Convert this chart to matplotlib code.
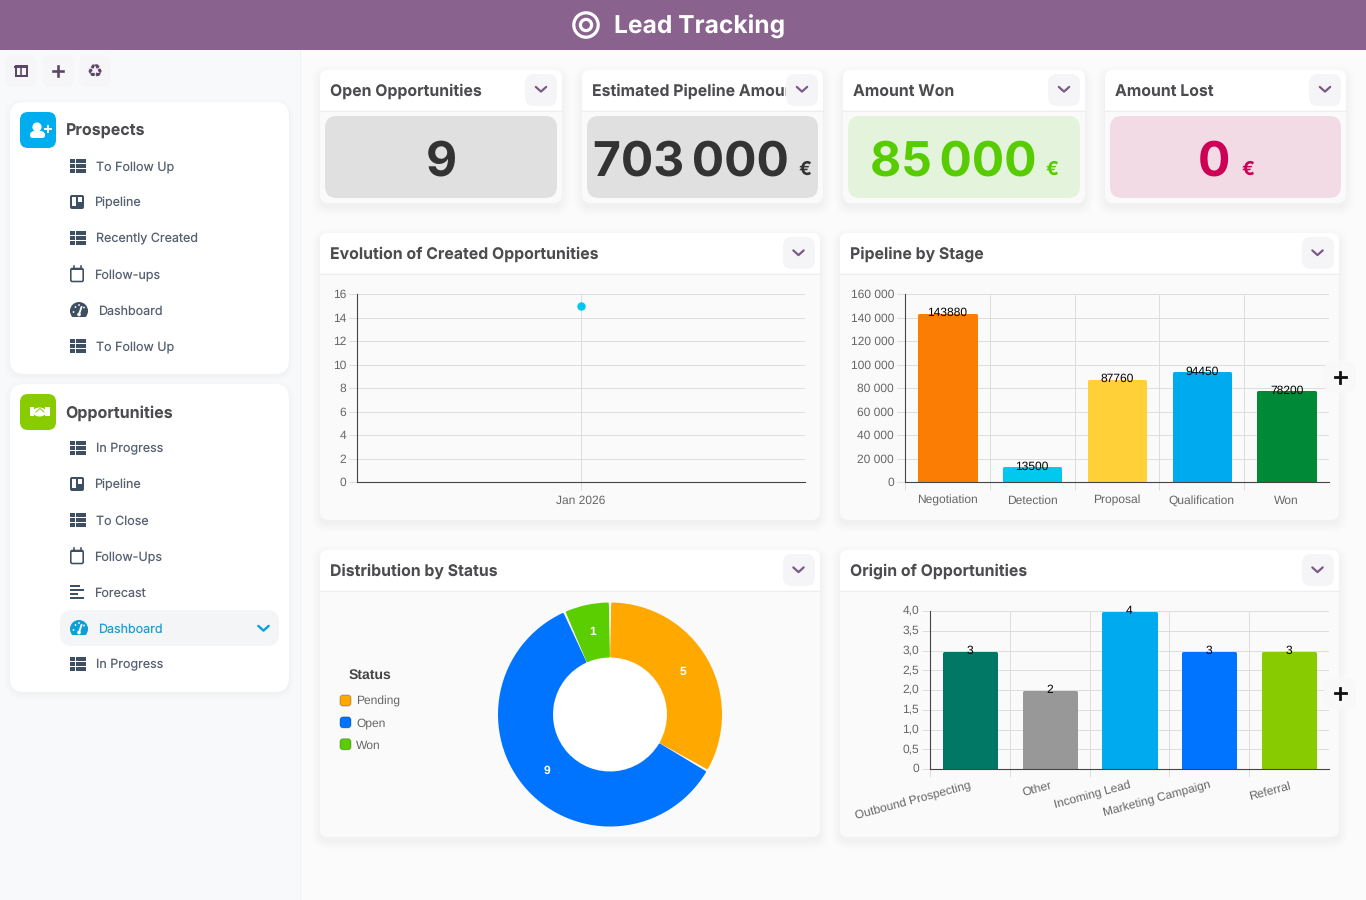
import matplotlib
matplotlib.use("Agg")
import matplotlib.pyplot as plt
from matplotlib.patches import FancyBboxPatch, Rectangle, Circle, Wedge, Patch, Ellipse
from matplotlib.legend_handler import HandlerPatch
from matplotlib.transforms import Affine2D

plt.rcParams["text.hinting"] = "no_hinting"
plt.rcParams["text.hinting_factor"] = 1

W, H = 1366, 900
PX = 0.72
UI = ["Inter", "DejaVu Sans"]
CH = ["Liberation Sans", "DejaVu Sans"]

# ---- data ----
title = "Lead Tracking"
prospect_items = ["To Follow Up", "Pipeline", "Recently Created", "Follow-ups", "Dashboard", "To Follow Up"]
prospect_icons = ["table", "board", "table", "cal", "gauge", "table"]
opportunity_items = ["In Progress", "Pipeline", "To Close", "Follow-Ups", "Forecast", "Dashboard", "In Progress"]
opportunity_icons = ["table", "board", "table", "cal", "bars", "gauge", "table"]

kpi_titles = ["Open Opportunities", "Estimated Pipeline Amount", "Amount Won", "Amount Lost"]
kpi_values = ["9", "703\u2009000", "85\u2009000", "0"]
kpi_units = ["", "€", "€", "€"]

months = ["Jan 2026"]
created = [15]
created_ticks = [0, 2, 4, 6, 8, 10, 12, 14, 16]

stages = ["Negotiation", "Detection", "Proposal", "Qualification", "Won"]
stage_values = [143880, 13500, 87760, 94450, 78200]
stage_ticks = [0, 20000, 40000, 60000, 80000, 100000, 120000, 140000, 160000]
stage_ticklabels = ["0", "20 000", "40 000", "60 000", "80 000", "100 000", "120 000", "140 000", "160 000"]
stage_colors = ["#fb7d03", "#00c9ee", "#ffd037", "#00aaee", "#008936"]

statuses = ["Pending", "Open", "Won"]
status_values = [5, 9, 1]
status_colors = ["#ffa800", "#0074ff", "#5ace00"]

origins = ["Outbound Prospecting", "Other", "Incoming Lead", "Marketing Campaign", "Referral"]
origin_values = [3, 2, 4, 3, 3]
origin_ticks = [0, 0.5, 1, 1.5, 2, 2.5, 3, 3.5, 4]
origin_ticklabels = ["0", "0,5", "1,0", "1,5", "2,0", "2,5", "3,0", "3,5", "4,0"]
origin_colors = ["#017865", "#989898", "#00aaee", "#0074ff", "#88cc00"]

INK = "#3f4f63"
PURPLE = "#7a5a86"
TXT = "#566170"
HEAD = "#4c4c4f"
TICK = "#666666"
GRID = "#dddddd"
AXIS = "#444444"

fig = plt.figure(figsize=(W / 100, H / 100), dpi=100, facecolor="#fbfbfc")


def overlay(z):
    a = fig.add_axes([0, 0, 1, 1], zorder=z)
    a.set_xlim(0, W)
    a.set_ylim(H, 0)
    a.axis("off")
    a.patch.set_alpha(0)
    return a


ui = overlay(0)
top = overlay(10)


def box(a, x0, y0, x1, y1, r, color, z=1, **kw):
    p = FancyBboxPatch((x0 + r, y0 + r), x1 - x0 - 2 * r, y1 - y0 - 2 * r,
                       boxstyle=f"round,pad={r},rounding_size={r}",
                       fc=color, ec="none", zorder=z, **kw)
    a.add_patch(p)
    return p


def shadow(x0, y0, x1, y1, r=8):
    for grow, al in [(9, .005), (7, .006), (5, .008), (3, .009), (1, .01)]:
        box(ui, x0 - grow, y0 - grow + 4, x1 + grow, y1 + grow + 4, r + grow, "#20304a", z=1, alpha=al)


def chevron(a, cx, cy, color=PURPLE, w=5.2, h=4.2, lw=2.2, z=5):
    a.plot([cx - w, cx, cx + w], [cy - h * .5, cy + h * .5 + .5, cy - h * .5], color=color,
           lw=lw * PX, solid_capstyle="round", solid_joinstyle="round", zorder=z)


def txt(a, x, y, s, size, color, weight="normal", family=UI, ha="left", va="center", z=6, **kw):
    return a.text(x, y, s, fontsize=size * PX, color=color, fontweight=weight, family=family,
                  ha=ha, va=va, zorder=z, **kw)


def icon(kind, x, cy, color=INK):
    if kind == "table":
        for r in range(3):
            for (c0, c1) in [(x, x + 5), (x + 6, x + 16)]:
                ui.add_patch(Rectangle((c0, cy - 7 + r * 5), c1 - c0, 4.2, fc=color, ec="none", zorder=5))
    elif kind == "board":
        box(ui, x, cy - 7, x + 14, cy + 7, 2, color, z=5)
        ui.add_patch(Rectangle((x + 1.8, cy - 5.2), 4.5, 9, fc="white", ec="none", zorder=6))
        ui.add_patch(Rectangle((x + 7.7, cy - 5.2), 4.5, 5.5, fc="white", ec="none", zorder=6))
    elif kind == "cal":
        p = FancyBboxPatch((x + .8, cy - 5.5), 12.4, 13, boxstyle="round,pad=0,rounding_size=1.5",
                           fc="none", ec=color, lw=1.6 * PX, zorder=5)
        ui.add_patch(p)
        ui.add_patch(Rectangle((x + .8, cy - 6), 12.4, 2.4, fc=color, ec="none", zorder=5))
        for dx in (3.5, 10.5):
            ui.plot([x + dx, x + dx], [cy - 8, cy - 5], color=color, lw=1.6 * PX, zorder=5)
    elif kind == "bars":
        for i, w_ in enumerate([10, 14, 8, 14]):
            ui.add_patch(Rectangle((x, cy - 7 + i * 4), w_, 1.9, fc=color, ec="none", zorder=5))
    elif kind == "gauge":
        cx = x + 9
        ui.add_patch(Wedge((cx, cy + 2), 9, 180, 360, fc=color, ec="none", zorder=5, width=None))
        ui.add_patch(Circle((cx, cy + 1), 9, fc=color, ec="none", zorder=5))
        ui.add_patch(Rectangle((cx - 10, cy + 7), 20, 4, fc="white" if color == INK else "#f4f5f6", ec="none", zorder=5))
        ui.plot([cx, cx + 2.5], [cy + 4.5, cy - 3], color="white", lw=1.8 * PX, zorder=6)
        ui.add_patch(Circle((cx, cy + 4.5), 1.8, fc="white", ec="none", zorder=6))
        for dx, dy in [(-5.5, 2), (-3.5, -3), (0, -5), (5, -2.5)]:
            ui.add_patch(Circle((cx + dx, cy + dy), .9, fc="white", ec="none", zorder=6))


TEXT_X = {"table": 96, "board": 94, "cal": 94, "bars": 94, "gauge": 98}

# ---- page frame ----
ui.add_patch(Rectangle((0, 50), 299, 850, fc="#f8f9fb", ec="none", zorder=0))
ui.plot([299.5, 299.5], [50, 900], color="#f0f1f3", lw=.8, zorder=0)
ui.add_patch(Rectangle((0, 0), W, 50, fc="#89638e", ec="none", zorder=2))
ui.add_patch(Circle((586, 25), 12.2, fc="none", ec="white", lw=3.2 * PX, zorder=3))
ui.add_patch(Circle((586, 25), 5.6, fc="none", ec="white", lw=3.2 * PX, zorder=3))
txt(ui, 614, 27, title, 24.6, "white", "bold")

# toolbar
for cx in (21, 58, 95):
    box(ui, cx - 16, 55, cx + 16, 87, 9, "#f6f6f8", z=2)
ui.add_patch(Rectangle((15.5, 66), 11, 9.5, fc="none", ec="#5d4566", lw=2 * PX, zorder=4))
ui.plot([21, 21], [66, 75.5], color="#5d4566", lw=1.6 * PX, zorder=4)
ui.plot([15, 27], [67, 67], color="#5d4566", lw=2 * PX, zorder=4)
ui.plot([53, 63], [71, 71], color="#5d4566", lw=2.6 * PX, zorder=4)
ui.plot([58, 58], [66, 76], color="#5d4566", lw=2.6 * PX, zorder=4)
txt(ui, 95, 72, "\u267b", 18, "#5d4566", family=["DejaVu Sans"], ha="center")

# ---- sidebar ----
for (y0, y1) in [(102, 374), (384, 692)]:
    for g, al in [(5, .006), (3, .008), (1, .01)]:
        box(ui, 10 - g, y0 - g + 2, 289 + g, y1 + g + 2, 14 + g, "#20304a", z=1, alpha=al)
    box(ui, 10, y0, 289, y1, 14, "white", z=2)

box(ui, 20, 112, 56, 148, 8, "#00adef", z=3)
ui.add_patch(Circle((37, 127), 4.6, fc="white", ec="none", zorder=4))
box(ui, 30, 132.5, 45, 138, 2.5, "white", z=4)
ui.add_patch(Ellipse((37.5, 134), 14.5, 7, fc="white", ec="none", zorder=4))
ui.plot([44.5, 50.5], [129, 129], color="white", lw=1.9 * PX, zorder=4)
ui.plot([47.5, 47.5], [126, 132], color="white", lw=1.9 * PX, zorder=4)
txt(ui, 66, 131, "Prospects", 16, HEAD, "bold")

box(ui, 20, 394, 56, 430, 8, "#88cc00", z=3)
ui.add_patch(Rectangle((29.5, 407), 4, 9, fc="white", ec="none", zorder=4))
ui.add_patch(Rectangle((45, 407), 4.5, 9, fc="white", ec="none", zorder=4))
ui.add_patch(Ellipse((39.5, 412), 13, 9, fc="white", ec="none", zorder=4))
ui.plot([36, 40, 44], [412, 408.5, 412], color="#88cc00", lw=1 * PX, zorder=5)
txt(ui, 65.5, 413, "Opportunities", 16, HEAD, "bold")

box(ui, 60, 610, 279, 646, 12, "#f4f5f6", z=3)
chevron(ui, 263.5, 628, color="#0e9fd8", w=5.2, h=4.2, lw=2.4)

for i, (lab, ic) in enumerate(zip(prospect_items, prospect_icons)):
    cy = 166 + i * 36
    icon(ic, 70, cy)
    txt(ui, TEXT_X[ic], cy + 4.5, lab, 12.5, TXT, va="baseline")
for i, (lab, ic) in enumerate(zip(opportunity_items, opportunity_icons)):
    cy = 448 + i * 36
    active = lab == "Dashboard"
    icon(ic, 70, cy, color="#0e9fd8" if active else INK)
    txt(ui, TEXT_X[ic], cy + 4.5, lab, 12.5, "#1d9fd6" if active else TXT, va="baseline")

# ---- KPI cards ----
kpi_x = [(320, 562), (582, 823), (843, 1085), (1105, 1346)]
kpi_bg = ["#e0e0e0", "#e0e0e0", "#e4f4dc", "#f3dbe6"]
kpi_fg = ["#333333", "#333333", "#58cc02", "#cc0055"]
kpi_num_x = [441, 593, 870, 1198]
kpi_unit_x = [0, 798, 1045, 1241]
for i, (x0, x1) in enumerate(kpi_x):
    shadow(x0, 70, x1, 203)
    box(ui, x0, 70, x1, 203, 8, "#fafafa", z=2)
    box(ui, x0, 70, x1, 110, 8, "white", z=2)
    ui.add_patch(Rectangle((x0, 100), x1 - x0, 10, fc="white", ec="none", zorder=2))
    ui.plot([x0, x1], [110.5, 110.5], color="#eeeeee", lw=.8, zorder=3)
    txt(ui, x0 + 10, 96, kpi_titles[i], 15.85, HEAD, "bold", z=3, va="baseline")
    box(ui, x1 - 37, 74, x1 - 5, 106, 9, "#f5f4f6", z=4)
    chevron(ui, x1 - 21, 89)
    box(ui, x0 + 5, 116, x1 - 5, 198, 12, kpi_bg[i], z=3)
    ha = "center" if i == 0 else "left"
    txt(ui, kpi_num_x[i], 175.5, kpi_values[i], 48, kpi_fg[i], "bold", ha=ha, va="baseline")
    if kpi_units[i]:
        txt(ui, kpi_unit_x[i], 174.5, kpi_units[i], 19, kpi_fg[i], "bold", va="baseline")

# ---- chart cards ----
cards = [(320, 233, 820, 520, "Evolution of Created Opportunities"),
         (840, 233, 1339, 520, "Pipeline by Stage"),
         (320, 550, 820, 837, "Distribution by Status"),
         (840, 550, 1339, 837, "Origin of Opportunities")]
for (x0, y0, x1, y1, t) in cards:
    shadow(x0, y0, x1, y1)
    box(ui, x0, y0, x1, y1, 8, "#fafafa", z=2)
    box(ui, x0, y0, x1, y0 + 40, 8, "white", z=2)
    ui.add_patch(Rectangle((x0, y0 + 30), x1 - x0, 10, fc="white", ec="none", zorder=2))
    ui.plot([x0, x1], [y0 + 40.5, y0 + 40.5], color="#eeeeee", lw=.8, zorder=3)
    txt(ui, x0 + 10, y0 + 26, t, 15.85, HEAD, "bold", z=3, va="baseline")
    box(ui, x1 - 37, y0 + 4, x1 - 5, y0 + 36, 9, "#f5f4f6", z=4)
    chevron(ui, x1 - 21.5, y0 + 19.5)


def chart(x0, y0, x1, y1):
    a = fig.add_axes([x0 / W, 1 - y1 / H, (x1 - x0) / W, (y1 - y0) / H], zorder=5)
    a.patch.set_alpha(0)
    for s in ("top", "right"):
        a.spines[s].set_visible(False)
    for s in ("left", "bottom"):
        a.spines[s].set_color(AXIS)
        a.spines[s].set_linewidth(1.1 * PX)
        a.spines[s].set_zorder(4)
    a.set_axisbelow(True)
    a.grid(True, color=GRID, lw=1 * PX)
    a.tick_params(axis="both", which="major", length=8 * PX, width=1 * PX, color=GRID,
                  labelcolor=TICK, labelsize=12 * PX, pad=3 * PX)
    return a


def y_axis(a, ticks, labels):
    a.set_ylim(ticks[0], ticks[-1])
    a.set_yticks(ticks)
    a.set_yticklabels(labels, family=CH, fontsize=12 * PX, color=TICK)


def x_categories(a, names, rotation=0, pad=22):
    n = len(names)
    a.set_xlim(-.5, n - .5)
    a.set_xticks([i - .5 for i in range(n)])
    a.set_xticklabels([])
    a.set_xticks(list(range(n)), minor=True)
    if rotation:
        a.set_xticklabels(names, minor=True, family=CH, fontsize=12 * PX, color=TICK,
                          rotation=rotation, ha="right", rotation_mode="anchor", va="top")
    else:
        a.set_xticklabels(names, minor=True, family=CH, fontsize=12 * PX, color=TICK, va="baseline")
    a.tick_params(axis="x", which="minor", length=0, pad=pad * PX)


def rounded_bars(a, values, colors, width, names_fmt=str, lab_dy=-.2):
    stroke = 3  # px, round join gives the bars their soft corners
    bars = a.bar(range(len(values)), values, width=width, color=colors, edgecolor=colors,
                 linewidth=stroke * PX, joinstyle="round", zorder=2)
    clip = Rectangle((0, 0), 1, 1.03, transform=a.transAxes)
    shift = a.transData + Affine2D().translate(0, -2.2)
    for b in bars:
        b.set_transform(shift)
        b.set_clip_path(clip)
    for i, v in enumerate(values):
        a.annotate(names_fmt(v), (i, v), xytext=(0, lab_dy), textcoords="offset points",
                   ha="center", va="center", family=CH, fontsize=12 * PX, color="black",
                   zorder=6, annotation_clip=False)


# Evolution (line with a single point)
a1 = chart(357, 294, 805, 482)
y_axis(a1, created_ticks, [str(t) for t in created_ticks])
a1.plot(range(len(months)), created, color="#00c9ee", marker="o", ms=7 * PX, mec="#00c9ee", lw=2 * PX,
        zorder=3, clip_on=False)
a1.set_xlim(-1, 1)
a1.set_xticks(range(len(months)))
a1.set_xticklabels(months, family=CH, fontsize=12 * PX, color=TICK, va="baseline")
a1.tick_params(axis="x", pad=14 * PX)

# Pipeline
a2 = chart(905, 294, 1329, 482)
y_axis(a2, stage_ticks, stage_ticklabels)
x_categories(a2, stages)
rounded_bars(a2, stage_values, stage_colors, width=.665)

# Origin
a4 = chart(930, 611, 1329, 769)
y_axis(a4, origin_ticks, origin_ticklabels)
x_categories(a4, origins, rotation=15, pad=11)
rounded_bars(a4, origin_values, origin_colors, width=.655)
for lab in a4.get_yticklabels():
    lab.set_transform(lab.get_transform() + Affine2D().translate(0, 1.5))

# Donut
R = 112
a3 = fig.add_axes([(610 - R - 2) / W, 1 - (714.5 + R + 2) / H, (2 * R + 4) / W, (2 * R + 4) / H], zorder=5)
total = sum(status_values)
wedges, _, autotexts = a3.pie(status_values, colors=status_colors, startangle=90, counterclock=False,
                              radius=1, autopct=lambda p: f"{round(p * total / 100)}", pctdistance=.755,
                              textprops=dict(color="white", fontsize=12 * PX, fontweight="bold", family=CH))
a3.set_xlim(-(R + 2) / R, (R + 2) / R)
a3.set_ylim(-(R + 2) / R, (R + 2) / R)
a3.add_patch(Circle((0, 0), 56 / R, fc="white", ec="none", zorder=0.5))
for w_, c in zip(wedges, status_colors):
    w_.set_theta1(w_.theta1 + 1.1)
    w_.set_theta2(w_.theta2 - 1.1)
    w_.set_radius(111 / R)
    w_.set_width(53 / R)
    w_.set_edgecolor(c)
    w_.set_linewidth(2 * PX)
    w_.set_joinstyle("round")
    w_.set_zorder(1)
for t_ in autotexts:
    t_.set_zorder(3)


class RoundHandler(HandlerPatch):
    def create_artists(self, legend, orig, xd, yd, width, height, fontsize, trans):
        side = 11 * PX
        r = 3 * PX
        p = FancyBboxPatch((-xd + r, -yd + (height - side) / 2 + r), side - 2 * r, side - 2 * r,
                           boxstyle=f"round,pad={r},rounding_size={r}",
                           fc=orig.get_facecolor(), ec="#00000040", lw=1 * PX, transform=trans)
        return [p]


handles = [Patch(fc=c, label=s) for c, s in zip(status_colors, statuses)]
leg = top.legend(handles=handles, title="Status", loc="upper left", frameon=False,
                 bbox_to_anchor=(340, 668.5), bbox_transform=top.transData, borderaxespad=0, borderpad=0,
                 handler_map={Patch: RoundHandler()}, handlelength=.95, handleheight=.95, handletextpad=.42,
                 labelspacing=.84, prop=dict(family=CH, size=12 * PX),
                 title_fontproperties=dict(family=CH, size=14 * PX, weight="bold"))
leg.get_title().set_color("#444444")
leg._legend_box.sep = 13.8 * PX
for t_ in leg.get_texts():
    t_.set_color(TICK)

# floating "+" buttons
for cy in (377, 693):
    box(top, 1324, cy - 16, 1356, cy + 16, 10, "#f8f8f9", z=2)
    top.plot([1334.5, 1345.5], [cy, cy], color="#111111", lw=2.8 * PX, zorder=3)
    top.plot([1340, 1340], [cy - 5.5, cy + 5.5], color="#111111", lw=2.8 * PX, zorder=3)

fig.savefig("out.png", dpi=100, facecolor=fig.get_facecolor())
